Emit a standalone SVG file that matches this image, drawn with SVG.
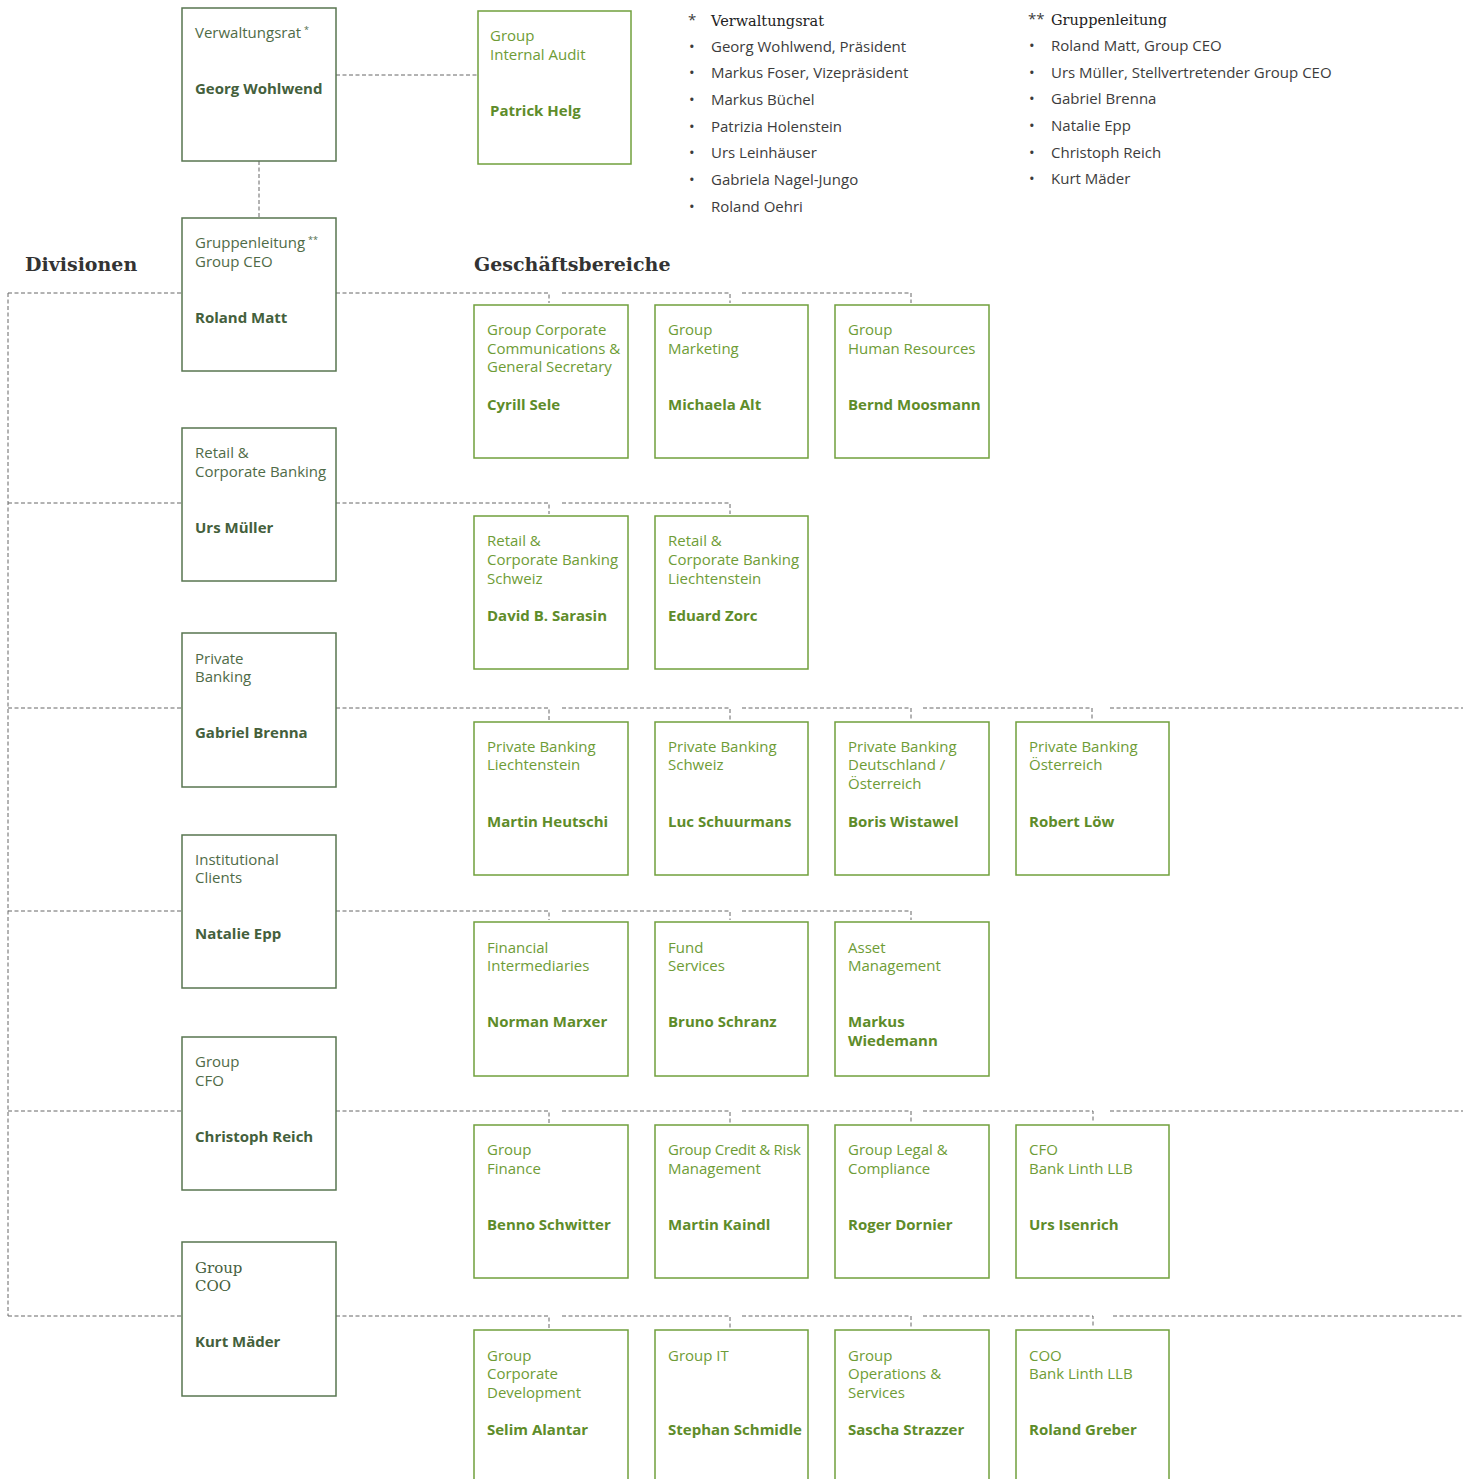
<svg xmlns="http://www.w3.org/2000/svg" width="1463" height="1479" viewBox="0 0 1463 1479">
<style>
.bg{fill:#ffffff}
.dbox{fill:#ffffff;stroke:#587650;stroke-width:1.5}
.cbox{fill:#ffffff;stroke:#70a03c;stroke-width:1.5}
.dl{font-family:"Open Sans","Noto Sans",sans-serif;font-size:15px;fill:#4f6b47}
.dn{font-family:"Open Sans","Noto Sans",sans-serif;font-size:15px;font-weight:bold;fill:#44603c}
.dls{font-family:"DejaVu Serif","Liberation Serif",serif;font-size:15px;fill:#44603c}
.cl{font-family:"Open Sans","Noto Sans",sans-serif;font-size:15px;fill:#6e9c36}
.cn{font-family:"Open Sans","Noto Sans",sans-serif;font-size:15px;font-weight:bold;fill:#5e8c2a}
.h{font-family:"DejaVu Serif","Liberation Serif",serif;font-size:19px;font-weight:bold;fill:#333333}
.lh{font-family:"DejaVu Serif","Liberation Serif",serif;font-size:14.5px;fill:#222222}
.lt{font-family:"Open Sans","Noto Sans",sans-serif;font-size:15px;fill:#3c3c3c}
.sup{font-size:9px}
.tight{letter-spacing:-0.25px}
.con{fill:none;stroke:#666666;stroke-width:1;stroke-dasharray:4 2.5}
</style>
<rect class="bg" x="0" y="0" width="1463" height="1479"/>

<!-- legend -->
<g id="legend">
<text class="lt" x="688" y="25">*</text>
<text class="lh" x="711" y="26">Verwaltungsrat</text>
<text class="lt" x="689" y="52">•</text><text class="lt" x="711" y="52">Georg Wohlwend, Präsident</text>
<text class="lt" x="689" y="78">•</text><text class="lt" x="711" y="78">Markus Foser, Vizepräsident</text>
<text class="lt" x="689" y="105">•</text><text class="lt" x="711" y="105">Markus Büchel</text>
<text class="lt" x="689" y="132">•</text><text class="lt" x="711" y="132">Patrizia Holenstein</text>
<text class="lt" x="689" y="158">•</text><text class="lt" x="711" y="158">Urs Leinhäuser</text>
<text class="lt" x="689" y="185">•</text><text class="lt" x="711" y="185">Gabriela Nagel-Jungo</text>
<text class="lt" x="689" y="212">•</text><text class="lt" x="711" y="212">Roland Oehri</text>
<text class="lt" x="1028" y="24">**</text>
<text class="lh" x="1051" y="25">Gruppenleitung</text>
<text class="lt" x="1029" y="51">•</text><text class="lt" x="1051" y="51">Roland Matt, Group CEO</text>
<text class="lt" x="1029" y="78">•</text><text class="lt" x="1051" y="78">Urs Müller, Stellvertretender Group CEO</text>
<text class="lt" x="1029" y="104">•</text><text class="lt" x="1051" y="104">Gabriel Brenna</text>
<text class="lt" x="1029" y="131">•</text><text class="lt" x="1051" y="131">Natalie Epp</text>
<text class="lt" x="1029" y="158">•</text><text class="lt" x="1051" y="158">Christoph Reich</text>
<text class="lt" x="1029" y="184">•</text><text class="lt" x="1051" y="184">Kurt Mäder</text>
</g>

<text class="h" x="25" y="271">Divisionen</text>
<text class="h" x="474" y="271">Geschäftsbereiche</text>

<!-- connectors -->
<g id="connectors">
<path class="con" d="M336 75H477"/>
<path class="con" d="M259 161V218"/>
<path class="con" d="M8 293V1316"/>
<path class="con" d="M8 293H182M8 503H182M8 708H182M8 911H182M8 1111H182M8 1316H182"/>
<path class="con" d="M336 293H549V303M562 293H730V303M742 293H911V303"/>
<path class="con" d="M336 503H549V514M562 503H730V514"/>
<path class="con" d="M336 708H549V720M562 708H730V720M742 708H911V720M923 708H1092V720M1110 708H1463"/>
<path class="con" d="M336 911H549V920M562 911H730V920M742 911H911V920"/>
<path class="con" d="M336 1111H549V1123M562 1111H730V1123M742 1111H911V1123M923 1111H1093V1123M1110 1111H1463"/>
<path class="con" d="M336 1316H549V1328M562 1316H730V1328M742 1316H911V1328M923 1316H1093V1328M1113 1316H1463"/>
</g>

<!-- division nodes -->
<g id="n-verwaltungsrat">
<rect class="dbox" x="182" y="8" width="154" height="153"/>
<text class="dl" x="195" y="38">Verwaltungsrat<tspan class="sup" dx="3" dy="-5">*</tspan></text>
<text class="dn" x="195" y="94">Georg Wohlwend</text>
</g>
<g id="n-internal-audit">
<rect class="cbox" x="478" y="11" width="153" height="153"/>
<text class="cl" x="490" y="41">Group</text>
<text class="cl" x="490" y="60">Internal Audit</text>
<text class="cn" x="490" y="116">Patrick Helg</text>
</g>
<g id="n-ceo">
<rect class="dbox" x="182" y="218" width="154" height="153"/>
<text class="dl" x="195" y="248">Gruppenleitung<tspan class="sup" dx="3" dy="-5">**</tspan></text>
<text class="dl" x="195" y="267">Group CEO</text>
<text class="dn" x="195" y="323">Roland Matt</text>
</g>
<g id="n-retail">
<rect class="dbox" x="182" y="428" width="154" height="153"/>
<text class="dl" x="195" y="458">Retail &amp;</text>
<text class="dl" x="195" y="477">Corporate Banking</text>
<text class="dn" x="195" y="533">Urs Müller</text>
</g>
<g id="n-private">
<rect class="dbox" x="182" y="633" width="154" height="154"/>
<text class="dl" x="195" y="664">Private</text>
<text class="dl" x="195" y="682">Banking</text>
<text class="dn" x="195" y="738">Gabriel Brenna</text>
</g>
<g id="n-institutional">
<rect class="dbox" x="182" y="835" width="154" height="153"/>
<text class="dl" x="195" y="865">Institutional</text>
<text class="dl" x="195" y="883">Clients</text>
<text class="dn" x="195" y="939">Natalie Epp</text>
</g>
<g id="n-cfo">
<rect class="dbox" x="182" y="1037" width="154" height="153"/>
<text class="dl" x="195" y="1067">Group</text>
<text class="dl" x="195" y="1086">CFO</text>
<text class="dn" x="195" y="1142">Christoph Reich</text>
</g>
<g id="n-coo">
<rect class="dbox" x="182" y="1242" width="154" height="154"/>
<text class="dls" x="195" y="1273">Group</text>
<text class="dls" x="195" y="1291">COO</text>
<text class="dn" x="195" y="1347">Kurt Mäder</text>
</g>

<!-- row 1 -->
<g id="n-gccgs">
<rect class="cbox" x="474" y="305" width="154" height="153"/>
<text class="cl" x="487" y="335">Group Corporate</text>
<text class="cl" x="487" y="354">Communications &amp;</text>
<text class="cl" x="487" y="372">General Secretary</text>
<text class="cn" x="487" y="410">Cyrill Sele</text>
</g>
<g id="n-marketing">
<rect class="cbox" x="655" y="305" width="153" height="153"/>
<text class="cl" x="668" y="335">Group</text>
<text class="cl" x="668" y="354">Marketing</text>
<text class="cn" x="668" y="410">Michaela Alt</text>
</g>
<g id="n-hr">
<rect class="cbox" x="835" y="305" width="154" height="153"/>
<text class="cl" x="848" y="335">Group</text>
<text class="cl" x="848" y="354">Human Resources</text>
<text class="cn" x="848" y="410">Bernd Moosmann</text>
</g>

<!-- row 2 -->
<g id="n-rcb-ch">
<rect class="cbox" x="474" y="516" width="154" height="153"/>
<text class="cl" x="487" y="546">Retail &amp;</text>
<text class="cl" x="487" y="565">Corporate Banking</text>
<text class="cl" x="487" y="584">Schweiz</text>
<text class="cn" x="487" y="621">David B. Sarasin</text>
</g>
<g id="n-rcb-li">
<rect class="cbox" x="655" y="516" width="153" height="153"/>
<text class="cl" x="668" y="546">Retail &amp;</text>
<text class="cl" x="668" y="565">Corporate Banking</text>
<text class="cl" x="668" y="584">Liechtenstein</text>
<text class="cn" x="668" y="621">Eduard Zorc</text>
</g>

<!-- row 3 -->
<g id="n-pb-li">
<rect class="cbox" x="474" y="722" width="154" height="153"/>
<text class="cl" x="487" y="752">Private Banking</text>
<text class="cl" x="487" y="770">Liechtenstein</text>
<text class="cn" x="487" y="827">Martin Heutschi</text>
</g>
<g id="n-pb-ch">
<rect class="cbox" x="655" y="722" width="153" height="153"/>
<text class="cl" x="668" y="752">Private Banking</text>
<text class="cl" x="668" y="770">Schweiz</text>
<text class="cn" x="668" y="827">Luc Schuurmans</text>
</g>
<g id="n-pb-de">
<rect class="cbox" x="835" y="722" width="154" height="153"/>
<text class="cl" x="848" y="752">Private Banking</text>
<text class="cl" x="848" y="770">Deutschland /</text>
<text class="cl" x="848" y="789">Österreich</text>
<text class="cn" x="848" y="827">Boris Wistawel</text>
</g>
<g id="n-pb-at">
<rect class="cbox" x="1016" y="722" width="153" height="153"/>
<text class="cl" x="1029" y="752">Private Banking</text>
<text class="cl" x="1029" y="770">Österreich</text>
<text class="cn" x="1029" y="827">Robert Löw</text>
</g>

<!-- row 4 -->
<g id="n-fi">
<rect class="cbox" x="474" y="922" width="154" height="154"/>
<text class="cl" x="487" y="953">Financial</text>
<text class="cl" x="487" y="971">Intermediaries</text>
<text class="cn" x="487" y="1027">Norman Marxer</text>
</g>
<g id="n-fund">
<rect class="cbox" x="655" y="922" width="153" height="154"/>
<text class="cl" x="668" y="953">Fund</text>
<text class="cl" x="668" y="971">Services</text>
<text class="cn" x="668" y="1027">Bruno Schranz</text>
</g>
<g id="n-am">
<rect class="cbox" x="835" y="922" width="154" height="154"/>
<text class="cl" x="848" y="953">Asset</text>
<text class="cl" x="848" y="971">Management</text>
<text class="cn" x="848" y="1027">Markus</text>
<text class="cn" x="848" y="1046">Wiedemann</text>
</g>

<!-- row 5 -->
<g id="n-finance">
<rect class="cbox" x="474" y="1125" width="154" height="153"/>
<text class="cl" x="487" y="1155">Group</text>
<text class="cl" x="487" y="1174">Finance</text>
<text class="cn" x="487" y="1230">Benno Schwitter</text>
</g>
<g id="n-credit">
<rect class="cbox" x="655" y="1125" width="153" height="153"/>
<text class="cl tight" x="668" y="1155">Group Credit &amp; Risk</text>
<text class="cl" x="668" y="1174">Management</text>
<text class="cn" x="668" y="1230">Martin Kaindl</text>
</g>
<g id="n-legal">
<rect class="cbox" x="835" y="1125" width="154" height="153"/>
<text class="cl" x="848" y="1155">Group Legal &amp;</text>
<text class="cl" x="848" y="1174">Compliance</text>
<text class="cn" x="848" y="1230">Roger Dornier</text>
</g>
<g id="n-cfo-linth">
<rect class="cbox" x="1016" y="1125" width="153" height="153"/>
<text class="cl" x="1029" y="1155">CFO</text>
<text class="cl" x="1029" y="1174">Bank Linth LLB</text>
<text class="cn" x="1029" y="1230">Urs Isenrich</text>
</g>

<!-- row 6 -->
<g id="n-corpdev">
<rect class="cbox" x="474" y="1330" width="154" height="160"/>
<text class="cl" x="487" y="1361">Group</text>
<text class="cl" x="487" y="1379">Corporate</text>
<text class="cl" x="487" y="1398">Development</text>
<text class="cn" x="487" y="1435">Selim Alantar</text>
</g>
<g id="n-it">
<rect class="cbox" x="655" y="1330" width="153" height="160"/>
<text class="cl" x="668" y="1361">Group IT</text>
<text class="cn" x="668" y="1435">Stephan Schmidle</text>
</g>
<g id="n-ops">
<rect class="cbox" x="835" y="1330" width="154" height="160"/>
<text class="cl" x="848" y="1361">Group</text>
<text class="cl" x="848" y="1379">Operations &amp;</text>
<text class="cl" x="848" y="1398">Services</text>
<text class="cn" x="848" y="1435">Sascha Strazzer</text>
</g>
<g id="n-coo-linth">
<rect class="cbox" x="1016" y="1330" width="153" height="160"/>
<text class="cl" x="1029" y="1361">COO</text>
<text class="cl" x="1029" y="1379">Bank Linth LLB</text>
<text class="cn" x="1029" y="1435">Roland Greber</text>
</g>
</svg>
